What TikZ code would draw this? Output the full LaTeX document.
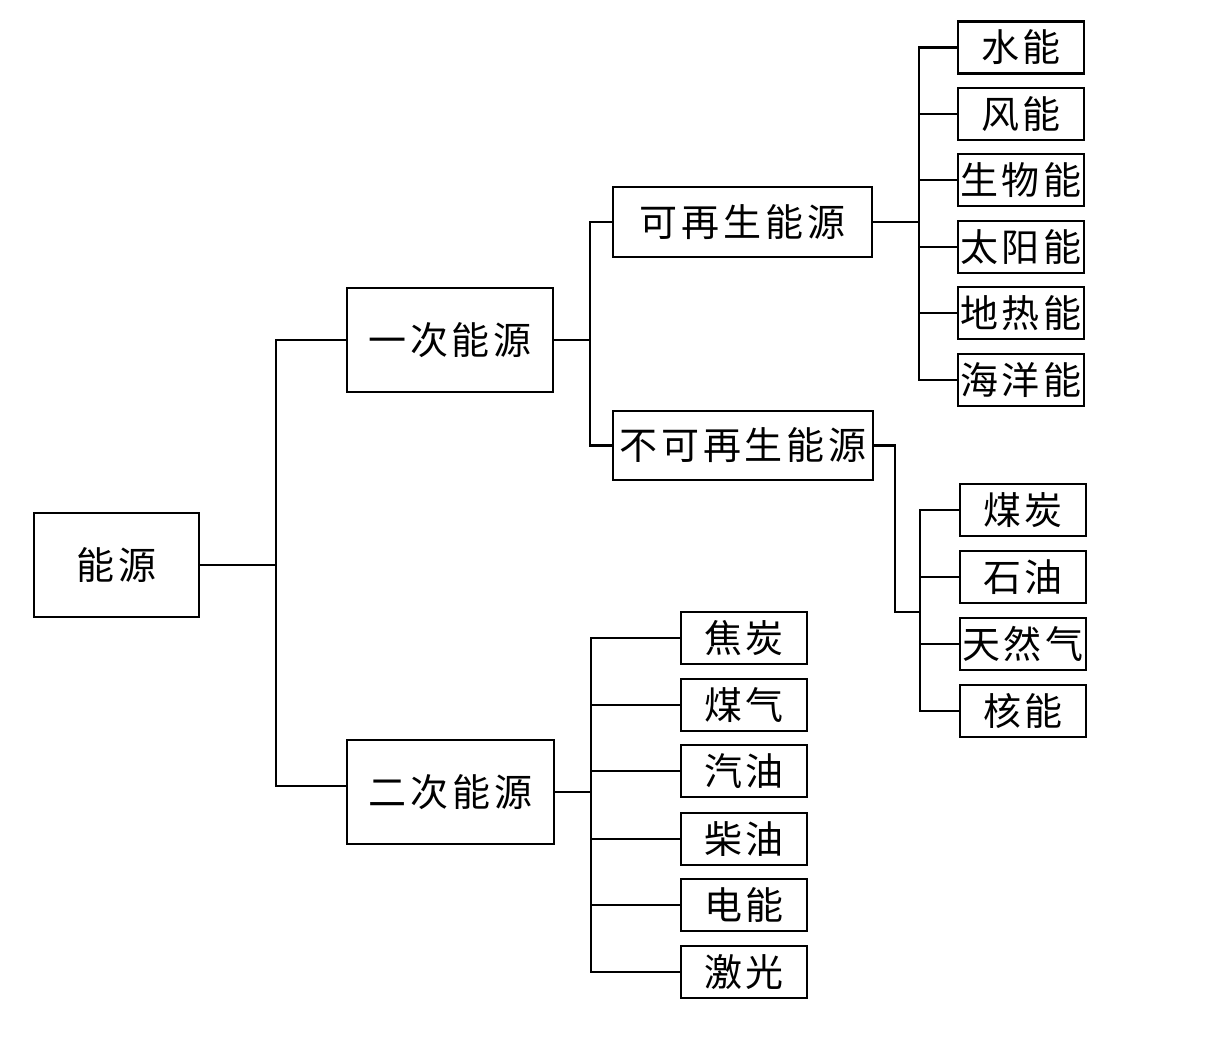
\documentclass[tikz,border=0pt]{standalone}
\usepackage{fontspec}
\setmainfont{Noto Sans CJK SC}[LetterSpace=10]
\begin{document}
\begin{tikzpicture}[x=1pt,y=-1pt,
  box/.style={draw,line width=2.8pt,inner sep=0pt,minimum height=#1,
    font=\fontsize{38}{40}\selectfont},
  box/.default=52pt,
  conn/.style={line width=2.8pt,line cap=rect}]
\useasboundingbox[fill=white] (0,0) rectangle (1222,1041);
% nodes
\node[box=104pt,minimum width=165pt] (root) at (116.5,565) {能源};
\node[box=104pt,minimum width=206pt] (p1) at (450,340) {一次能源};
\node[box=104pt,minimum width=207pt] (p2) at (450.5,792) {二次能源};
\node[box=70pt,minimum width=259pt] (r) at (742.5,222) {可再生能源};
\node[box=69pt,minimum width=260pt] (nr) at (743,445.5) {不可再生能源};
% renewable leaves
\node[box,minimum width=126pt] (r1) at (1021,47.5) {水能};
\node[box,minimum width=126pt] (r2) at (1021,114) {风能};
\node[box,minimum width=126pt] (r3) at (1021,180) {生物能};
\node[box,minimum width=126pt] (r4) at (1021,247) {太阳能};
\node[box,minimum width=126pt] (r5) at (1021,313) {地热能};
\node[box,minimum width=126pt] (r6) at (1021,380) {海洋能};
% non-renewable leaves
\node[box,minimum width=126pt] (n1) at (1023,510) {煤炭};
\node[box,minimum width=126pt] (n2) at (1023,577) {石油};
\node[box,minimum width=126pt] (n3) at (1023,644) {天然气};
\node[box,minimum width=126pt] (n4) at (1023,711) {核能};
% secondary leaves
\node[box,minimum width=126pt] (s1) at (744,638) {焦炭};
\node[box,minimum width=126pt] (s2) at (744,705) {煤气};
\node[box,minimum width=126pt] (s3) at (744,771) {汽油};
\node[box,minimum width=126pt] (s4) at (744,839) {柴油};
\node[box,minimum width=126pt] (s5) at (744,905) {电能};
\node[box,minimum width=126pt] (s6) at (744,972) {激光};
% bus coordinates
\coordinate (b0) at (276,565);
\coordinate (b1) at (590,340);
\coordinate (b2) at (919,222);
\coordinate (b3a) at (895,445.5);
\coordinate (b3) at (920,612);
\coordinate (b4) at (591,792);
% connectors
\draw[conn] (root.east) -- (b0);
\draw[conn] (p1.west) -| (b0) |- ([yshift=6pt]p2.west);
\draw[conn] (p1.east) -- (b1);
\draw[conn] (r.west) -| (b1) |- (nr.west);
\draw[conn] (r.east) -- (b2);
\draw[conn] (b2 |- r1.west) -- (b2 |- r6.west);
\foreach \n in {r1,r2,r3,r4,r5,r6} \draw[conn] (b2 |- \n.west) -- (\n.west);
\draw[conn] (nr.east) -- (b3a) |- (b3);
\draw[conn] (b3 |- n1.west) -- (b3 |- n4.west);
\foreach \n in {n1,n2,n3,n4} \draw[conn] (b3 |- \n.west) -- (\n.west);
\draw[conn] (p2.east) -- (b4);
\draw[conn] (b4 |- s1.west) -- (b4 |- s6.west);
\foreach \n in {s1,s2,s3,s4,s5,s6} \draw[conn] (b4 |- \n.west) -- (\n.west);
\end{tikzpicture}
\end{document}
